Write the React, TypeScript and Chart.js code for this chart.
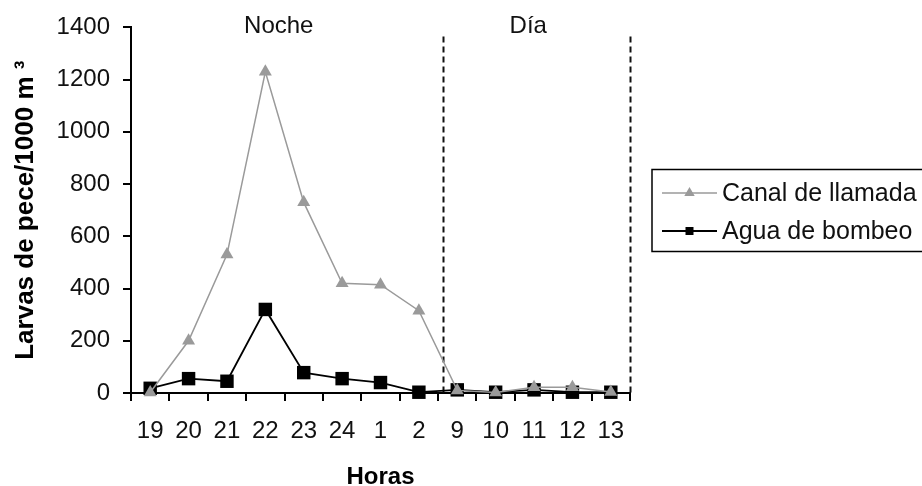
import React, { useEffect, useRef } from 'react';
import { Chart, registerables } from 'chart.js';

Chart.register(...registerables);

// ---- data ----
const horas = ['19', '20', '21', '22', '23', '24', '1', '2', '9', '10', '11', '12', '13'];
const canalDeLlamada = [2, 200, 530, 1230, 730, 420, 415, 315, 10, 2, 22, 22, 4];
const aguaDeBombeo = [18, 55, 45, 320, 78, 55, 40, 3, 12, 3, 12, 3, 3];
const seriesNames = ['Canal de llamada', 'Agua de bombeo'];
const yMin = 0;
const yMax = 1400;
const yStep = 200;
const periodLabels = ['Noche', 'Día'];
const periodLabelAt = [3.35, 9.85];
const periodDividers = [7.62, 12.5];
const yTitle = 'Larvas de pece/1000 m ³';
const xTitle = 'Horas';

const FONT = '"Liberation Sans", Arial, sans-serif';
const GRAY = '#9a9a9a';

function drawMarker(ctx: CanvasRenderingContext2D, style: string, x: number, y: number, r: number, color: string) {
  ctx.fillStyle = color;
  ctx.beginPath();
  if (style === 'triangle') {
    const w = r * Math.sin(Math.PI / 3);
    ctx.moveTo(x, y - r);
    ctx.lineTo(x + w, y + r / 2);
    ctx.lineTo(x - w, y + r / 2);
    ctx.closePath();
  } else {
    ctx.rect(x - r, y - r, 2 * r, 2 * r);
  }
  ctx.fill();
}

const periodPlugin = {
  id: 'periodPlugin',
  beforeDatasetsDraw(chart: any) {
    const { ctx, chartArea, scales } = chart;
    const x = scales.x;
    ctx.save();
    ctx.strokeStyle = '#111';
    ctx.lineWidth = 2;
    ctx.setLineDash([6, 4]);
    periodDividers.forEach((v) => {
      const px = Math.round(x.getPixelForValue(v)) + 0.5;
      ctx.beginPath();
      ctx.moveTo(px, chartArea.top + 9);
      ctx.lineTo(px, chartArea.bottom);
      ctx.stroke();
    });
    ctx.setLineDash([]);
    ctx.font = `24px ${FONT}`;
    ctx.fillStyle = '#111';
    ctx.textAlign = 'center';
    ctx.textBaseline = 'middle';
    periodLabels.forEach((t, i) => {
      ctx.fillText(t, x.getPixelForValue(periodLabelAt[i]), chartArea.top - 1);
    });
    ctx.restore();
  },
};

const legendPlugin = {
  id: 'boxLegend',
  afterDraw(chart: any) {
    const { ctx } = chart;
    ctx.save();
    ctx.strokeStyle = '#000';
    ctx.lineWidth = 1.5;
    ctx.strokeRect(652, 169.5, 300, 82);
    chart.data.datasets.forEach((ds: any, i: number) => {
      const y = 193 + i * 38;
      ctx.strokeStyle = ds.borderColor;
      ctx.lineWidth = ds.borderWidth;
      ctx.beginPath();
      ctx.moveTo(662, y);
      ctx.lineTo(717, y);
      ctx.stroke();
      if (ds.pointStyle === 'triangle') drawMarker(ctx, 'triangle', 689.5, y, 6, ds.pointBackgroundColor);
      else drawMarker(ctx, 'rect', 689.5, y, 4, ds.pointBackgroundColor);
      ctx.fillStyle = '#111';
      ctx.font = `25px ${FONT}`;
      ctx.textAlign = 'left';
      ctx.textBaseline = 'middle';
      ctx.fillText(ds.label, 722, y + 1);
    });
    ctx.restore();
  },
};

export default function App() {
  const ref = useRef<HTMLCanvasElement | null>(null);

  useEffect(() => {
    if (!ref.current) return;
    const chart = new Chart(ref.current, {
      type: 'line',
      data: {
        labels: horas,
        datasets: [
          {
            label: seriesNames[0],
            data: canalDeLlamada,
            borderColor: GRAY,
            backgroundColor: GRAY,
            pointBackgroundColor: GRAY,
            pointBorderColor: GRAY,
            borderWidth: 1.5,
            pointStyle: 'triangle',
            pointRadius: 7.5,
            pointBorderWidth: 0,
            tension: 0,
            clip: false,
          } as any,
          {
            label: seriesNames[1],
            data: aguaDeBombeo,
            borderColor: '#000',
            backgroundColor: '#000',
            pointBackgroundColor: '#000',
            pointBorderColor: '#000',
            borderWidth: 1.8,
            pointStyle: 'rect',
            pointRadius: 9.5,
            pointBorderWidth: 0,
            tension: 0,
            clip: false,
          } as any,
        ],
      },
      options: {
        responsive: false,
        animation: false,
        events: [],
        layout: { padding: { left: 0, right: 292, top: 25, bottom: 0 } },
        plugins: {
          legend: { display: false },
          tooltip: { enabled: false },
        },
        scales: {
          x: {
            type: 'category',
            offset: true,
            afterFit: (s: any) => {
              s.height = 93;
            },
            grid: {
              offset: true,
              drawOnChartArea: false,
              drawTicks: true,
              tickLength: 8,
              color: '#000',
              lineWidth: 2,
            },
            border: { display: true, color: '#000', width: 2 },
            ticks: {
              autoSkip: false,
              maxRotation: 0,
              minRotation: 0,
              padding: 16,
              color: '#111',
              font: { family: FONT, size: 24 },
            },
            title: {
              display: true,
              text: xTitle,
              color: '#000',
              font: { family: FONT, size: 24, weight: 'bold', lineHeight: 0.75 },
              padding: { top: 0, bottom: 0 },
            },
          },
          y: {
            min: yMin,
            max: yMax,
            afterFit: (s: any) => {
              s.width = 131;
            },
            grid: {
              drawOnChartArea: false,
              drawTicks: true,
              tickLength: 8,
              color: '#000',
              lineWidth: 2,
            },
            border: { display: true, color: '#000', width: 2 },
            ticks: {
              stepSize: yStep,
              padding: 13,
              color: '#111',
              font: { family: FONT, size: 24 },
              callback: (v: any) => String(v),
            },
            title: {
              display: true,
              text: yTitle,
              color: '#000',
              font: { family: FONT, size: 26, weight: 'bold', lineHeight: 1 },
              padding: { top: 13, bottom: 0 },
            },
          },
        },
      } as any,
      plugins: [periodPlugin, legendPlugin],
    });
    return () => chart.destroy();
  }, []);

  return (
    <div style={{ position: 'absolute', left: 0, top: 0, width: 922, height: 486, background: '#fff' }}>
      <canvas ref={ref} width={922} height={486} />
    </div>
  );
}
